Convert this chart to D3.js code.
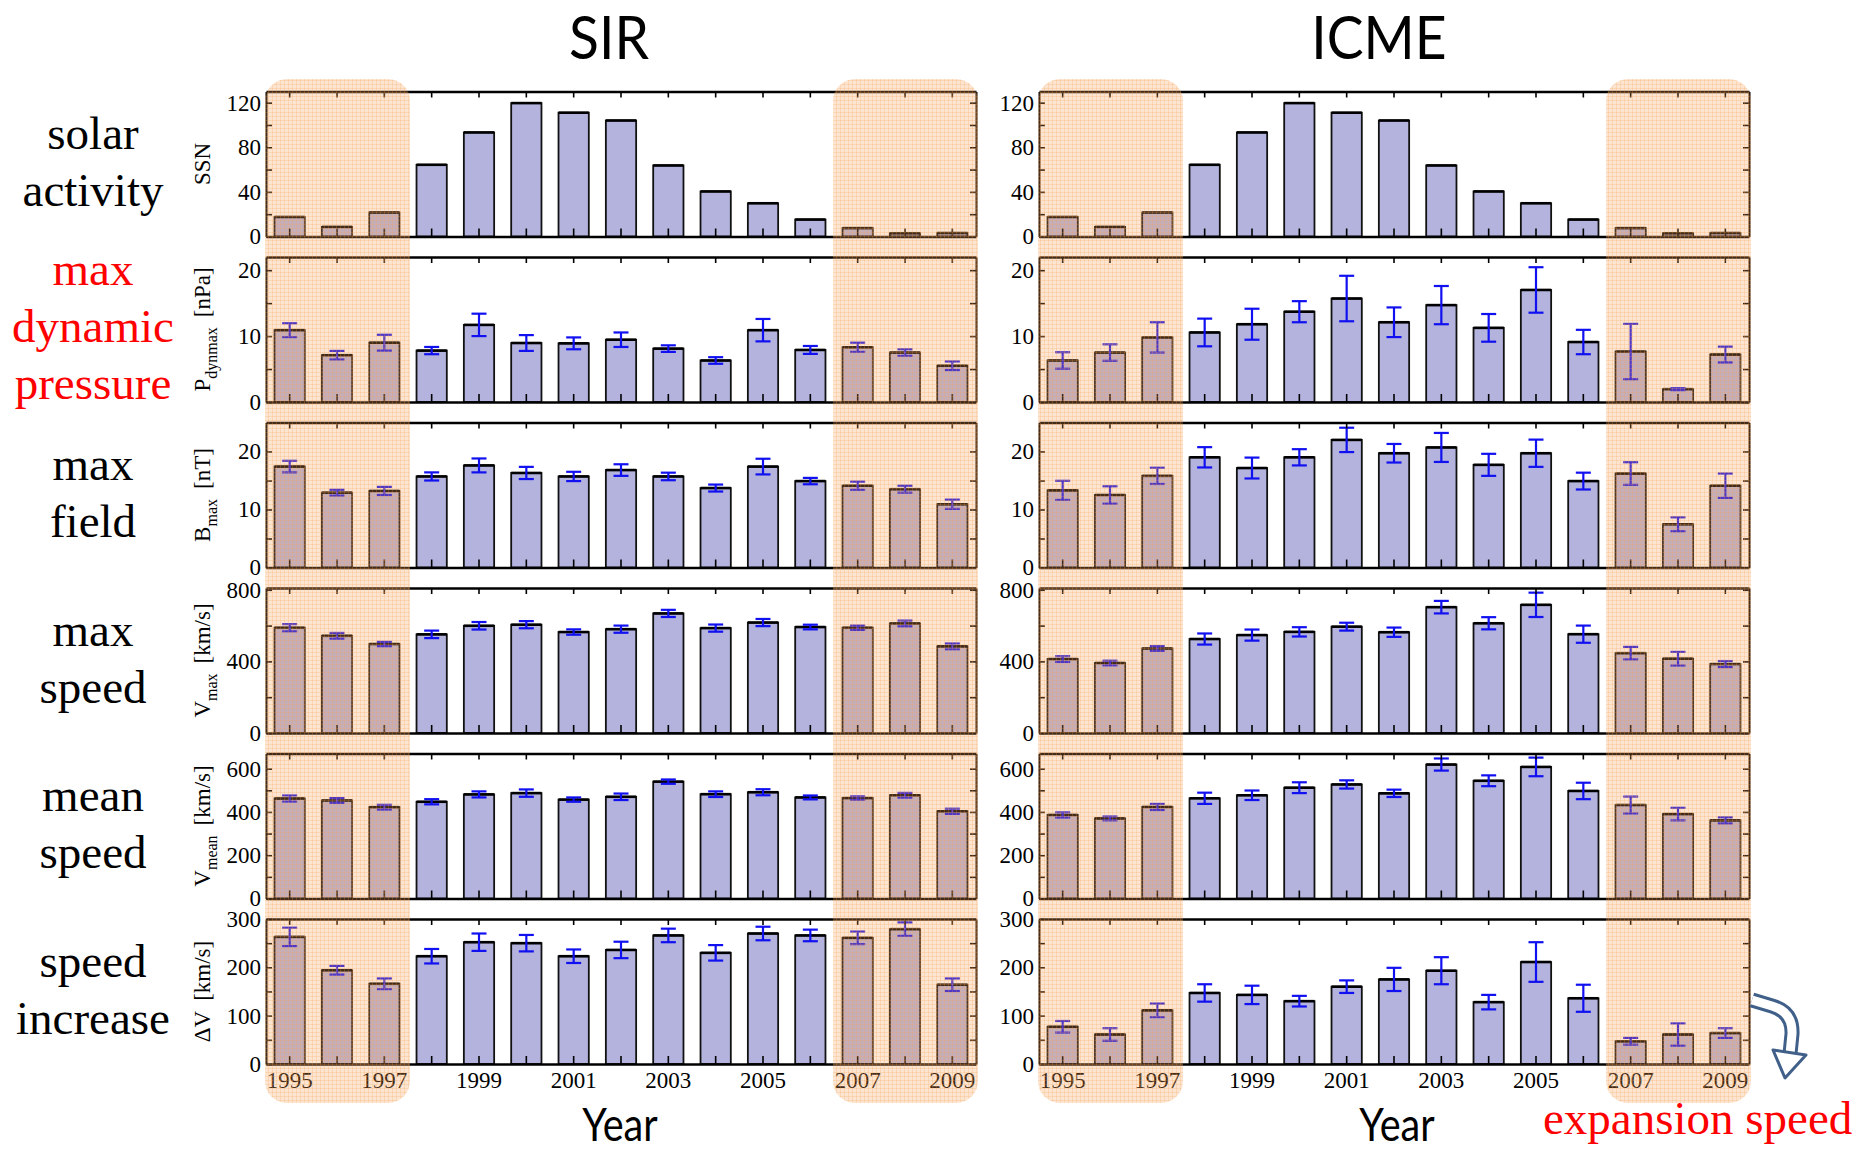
<!DOCTYPE html>
<html>
<head>
<meta charset="utf-8">
<script src="https://cdn.jsdelivr.net/npm/d3@7/dist/d3.min.js"></script>
<style>
  body { margin: 0; background: #fff; }
  svg text { font-family: "Liberation Serif", "Times New Roman", serif; }
</style>
</head>
<body>
<svg id="chart" width="1864" height="1150"></svg>
<script>
// ---- data ----
var years = [1995, 1996, 1997, 1998, 1999, 2000, 2001, 2002, 2003, 2004, 2005, 2006, 2007, 2008, 2009];
var oddYearLabels = [1995, 1997, 1999, 2001, 2003, 2005, 2007, 2009];

var ssn = [17.5, 8.6, 21.5, 64.3, 93.3, 119.6, 111.0, 104.0, 63.7, 40.4, 29.8, 15.2, 7.5, 2.9, 3.1];

var sirPdyn     = [10.9, 7.1, 9.0, 7.8, 11.7, 8.95, 8.9, 9.45, 8.1, 6.3, 10.9, 7.9, 8.3, 7.5, 5.5];
var sirPdynErr  = [1.05, 0.65, 1.2, 0.55, 1.7, 1.2, 0.9, 1.1, 0.5, 0.5, 1.7, 0.6, 0.7, 0.5, 0.65];
var icmePdyn    = [6.3, 7.5, 9.8, 10.55, 11.8, 13.7, 15.7, 12.1, 14.7, 11.25, 17.0, 9.1, 7.65, 1.95, 7.2];
var icmePdynErr = [1.25, 1.25, 2.3, 2.1, 2.35, 1.6, 3.45, 2.25, 2.9, 2.1, 3.45, 1.85, 4.2, 0.15, 1.2];

var sirBmax     = [17.4, 12.9, 13.2, 15.7, 17.6, 16.3, 15.7, 16.8, 15.7, 13.7, 17.4, 14.9, 14.1, 13.5, 10.9];
var sirBmaxErr  = [1.0, 0.5, 0.7, 0.7, 1.2, 1.05, 0.8, 1.0, 0.65, 0.6, 1.35, 0.55, 0.7, 0.6, 0.8];
var icmeBmax    = [13.3, 12.5, 15.8, 19.0, 17.15, 19.0, 22.0, 19.7, 20.7, 17.7, 19.7, 14.9, 16.2, 7.45, 14.1];
var icmeBmaxErr = [1.65, 1.5, 1.4, 1.75, 1.8, 1.4, 2.1, 1.6, 2.5, 1.9, 2.35, 1.45, 1.95, 1.2, 2.1];

var sirVmax     = [588, 543, 497, 551, 599, 605, 564, 580, 668, 586, 617, 592, 588, 612, 484];
var sirVmaxErr  = [20, 16, 12, 21, 21, 20, 15, 20, 20, 20, 20, 13, 12, 16, 16];
var icmeVmax    = [413, 391, 472, 525, 547, 565, 594, 563, 703, 613, 716, 552, 446, 415, 385];
var icmeVmaxErr = [16, 13, 13, 31, 31, 26, 22, 26, 35, 34, 68, 48, 35, 38, 17];

var sirVmean     = [462, 453, 422, 447, 481, 487, 457, 470, 540, 482, 491, 467, 464, 477, 403];
var sirVmeanErr  = [14, 11, 11, 12, 14, 17, 10, 15, 10, 13, 14, 9, 8, 11, 12];
var icmeVmean    = [386, 370, 423, 463, 477, 512, 527, 486, 619, 544, 608, 497, 432, 390, 361];
var icmeVmeanErr = [12, 9, 14, 26, 22, 25, 19, 17, 28, 25, 43, 38, 39, 29, 14];

var sirDv     = [263, 194, 166, 223, 252, 250, 223, 236, 266, 230, 270, 266, 261, 279, 164];
var sirDvErr  = [19, 9, 11, 15, 18, 17, 14, 17, 14, 16, 14, 12, 13, 14, 13];
var icmeDv    = [77, 61, 111, 147, 143, 130, 160, 175, 193, 128, 211, 136, 47, 61, 64];
var icmeDvErr = [12, 13, 14, 18, 19, 11, 13, 24, 28, 15, 41, 28, 7, 23, 10];

var minYears = [[1995, 1997], [2007, 2009]];   // shaded solar minimum periods

// ---- panel setup ----
var rows = [
  {max: 130, major: [0, 40, 80, 120], minor: [20, 60, 100], data: [ssn, ssn], err: [null, null],
   name: "SSN", sub: "", unit: "", label: ["solar", "activity"], color: "#000"},
  {max: 22, major: [0, 10, 20], minor: [5, 15], data: [sirPdyn, icmePdyn], err: [sirPdynErr, icmePdynErr],
   name: "P", sub: "dynmax", unit: "[nPa]", label: ["max", "dynamic", "pressure"], color: "#ff0000"},
  {max: 25, major: [0, 10, 20], minor: [5, 15], data: [sirBmax, icmeBmax], err: [sirBmaxErr, icmeBmaxErr],
   name: "B", sub: "max", unit: "[nT]", label: ["max", "field"], color: "#000"},
  {max: 810, major: [0, 400, 800], minor: [200, 600], data: [sirVmax, icmeVmax], err: [sirVmaxErr, icmeVmaxErr],
   name: "V", sub: "max", unit: "[km/s]", label: ["max", "speed"], color: "#000"},
  {max: 670, major: [0, 200, 400, 600], minor: [100, 300, 500], data: [sirVmean, icmeVmean], err: [sirVmeanErr, icmeVmeanErr],
   name: "V", sub: "mean", unit: "[km/s]", label: ["mean", "speed"], color: "#000"},
  {max: 300, major: [0, 100, 200, 300], minor: [50, 150, 250], data: [sirDv, icmeDv], err: [sirDvErr, icmeDvErr],
   name: "\u0394V", sub: "", unit: "[km/s]", label: ["speed", "increase"], color: "#000"}
];

var cols = [
  {title: "SIR", x0: 266, titleX: 609, yearX: 620, yearY: 1141},
  {title: "ICME", x0: 1039, titleX: 1379, yearX: 1397, yearY: 1141}
];

var W = 710, H = 145, top0 = 91.5, step = 165.5;
var barFrac = 0.64, capW = 15;

var svg = d3.select("#chart");

// shading pattern
var defs = svg.append("defs");
var pat = defs.append("pattern").attr("id", "dots")
    .attr("width", 4).attr("height", 4).attr("patternUnits", "userSpaceOnUse");
pat.append("rect").attr("width", 4).attr("height", 4).attr("fill", "rgba(246,158,84,0.27)");
pat.append("rect").attr("width", 4).attr("height", 1).attr("fill", "rgba(246,158,84,0.22)");
pat.append("rect").attr("width", 1).attr("height", 4).attr("fill", "rgba(246,158,84,0.22)");

function styleAxis(g, w) {
  g.select(".domain").attr("stroke", "#000").attr("stroke-width", w);
  g.selectAll(".tick line").attr("stroke", "#000").attr("stroke-width", 1.6);
  g.selectAll(".tick text")
    .attr("fill", "#000")
    .style("font-family", '"Liberation Serif", serif')
    .style("font-size", "23px");
}

cols.forEach(function(c, ci) {
  var x = d3.scaleBand().domain(years).range([c.x0, c.x0 + W]);
  var bw = x.bandwidth() * barFrac;

  rows.forEach(function(r, ri) {
    var y0 = top0 + ri * step;
    var y = d3.scaleLinear().domain([0, r.max]).range([y0 + H, y0]);
    var vals = r.data[ci], errs = r.err[ci];
    var g = svg.append("g");

    // bars
    g.selectAll("rect.bar").data(years).join("rect")
      .attr("class", "bar")
      .attr("x", function(d) { return x(d) + (x.bandwidth() - bw) / 2; })
      .attr("width", bw)
      .attr("y", function(d, i) { return y(vals[i]); })
      .attr("height", function(d, i) { return y(0) - y(vals[i]); })
      .attr("fill", "#b3b3de")
      .attr("stroke", "#111")
      .attr("stroke-width", 1.8);
    g.selectAll("line.btop").data(years).join("line")
      .attr("class", "btop")
      .attr("x1", function(d) { return x(d) + (x.bandwidth() - bw) / 2; })
      .attr("x2", function(d) { return x(d) + (x.bandwidth() + bw) / 2; })
      .attr("y1", function(d, i) { return y(vals[i]); })
      .attr("y2", function(d, i) { return y(vals[i]); })
      .attr("stroke", "#000").attr("stroke-width", 2.6);

    // error bars
    if (errs) {
      var eg = g.selectAll("g.err").data(years).join("g").attr("class", "err")
        .attr("stroke", "#1010f0").attr("stroke-width", 2.2);
      eg.append("line")
        .attr("x1", function(d) { return x(d) + x.bandwidth() / 2; })
        .attr("x2", function(d) { return x(d) + x.bandwidth() / 2; })
        .attr("y1", function(d, i) { return y(vals[i] - errs[i]); })
        .attr("y2", function(d, i) { return y(vals[i] + errs[i]); });
      [1, -1].forEach(function(s) {
        eg.append("line")
          .attr("x1", function(d) { return x(d) + x.bandwidth() / 2 - capW / 2; })
          .attr("x2", function(d) { return x(d) + x.bandwidth() / 2 + capW / 2; })
          .attr("y1", function(d, i) { return y(vals[i] + s * errs[i]); })
          .attr("y2", function(d, i) { return y(vals[i] + s * errs[i]); });
      });
    }

    // axes
    var left = g.append("g").attr("transform", "translate(" + c.x0 + ",0)")
      .call(d3.axisLeft(y).tickValues(r.major).tickSize(-6).tickSizeOuter(0).tickPadding(5));
    styleAxis(left, 2);
    var leftMinor = g.append("g").attr("transform", "translate(" + c.x0 + ",0)")
      .call(d3.axisLeft(y).tickValues(r.minor).tickSize(-6).tickFormat(""));
    leftMinor.select(".domain").remove();
    styleAxis(leftMinor, 0);
    var right = g.append("g").attr("transform", "translate(" + (c.x0 + W) + ",0)")
      .call(d3.axisRight(y).tickValues(r.major.concat(r.minor)).tickSize(-6).tickSizeOuter(0).tickFormat(""));
    styleAxis(right, 2);
    var topAx = g.append("g").attr("transform", "translate(0," + y0 + ")")
      .call(d3.axisTop(x).tickSize(-6).tickSizeOuter(0).tickFormat(""));
    styleAxis(topAx, 2.4);
    var bottom = g.append("g").attr("transform", "translate(0," + (y0 + H) + ")")
      .call(d3.axisBottom(x).tickSize(-8).tickSizeOuter(0).tickPadding(8)
        .tickFormat(function(d) { return (ri === rows.length - 1 && oddYearLabels.indexOf(d) >= 0) ? d : ""; }));
    styleAxis(bottom, 2.6);

    // y-axis title (SIR column only)
    if (ci === 0) {
      var t = svg.append("text")
        .attr("transform", "translate(210," + (y0 + H / 2) + ") rotate(-90)")
        .attr("text-anchor", "middle")
        .style("font-size", "23px").attr("fill", "#000");
      t.append("tspan").text(r.name);
      if (r.sub) t.append("tspan").attr("dy", 7).style("font-size", "16px").text(r.sub);
      if (r.unit) t.append("tspan").attr("dy", r.sub ? -7 : 0).attr("dx", 10).text(r.unit);
    }
  });

  // shaded minimum periods, drawn over the panels
  minYears.forEach(function(p) {
    var xa = x(p[0]) - 1, xb = x(p[1]) + x.bandwidth() + 2;
    svg.append("rect")
      .attr("x", xa).attr("y", 79)
      .attr("width", xb - xa).attr("height", 1103 - 79)
      .attr("rx", 22).attr("ry", 22)
      .attr("fill", "url(#dots)");
  });

  // column title and x label
  svg.append("text").text(c.title)
    .attr("transform", "translate(" + c.titleX + ",59) scale(0.92,1)")
    .attr("text-anchor", "middle")
    .style("font-family", "Lato, sans-serif").style("font-size", "60px").attr("fill", "#000");
  svg.append("text").text("Year")
    .attr("transform", "translate(" + c.yearX + "," + c.yearY + ") scale(0.86,1)")
    .attr("text-anchor", "middle")
    .style("font-family", "Lato, sans-serif").style("font-size", "46px").attr("fill", "#000");
});

// row labels on the far left
rows.forEach(function(r, ri) {
  var cy = top0 + ri * step + H / 2;
  var n = r.label.length;
  var first = n === 3 ? cy - 45 : cy - 15;
  var t = svg.append("text").attr("text-anchor", "middle")
    .style("font-size", "47px").attr("fill", r.color);
  r.label.forEach(function(s, k) {
    t.append("tspan").attr("x", 93).attr("y", first + k * 57).text(s);
  });
});

// expansion speed note and arrow
svg.append("text").text("expansion speed")
  .attr("x", 1543).attr("y", 1134)
  .style("font-size", "47px").attr("fill", "#ff0000");

var arrow = svg.append("g");
var shaft = "M1752,1000 L1772,1006 Q1793,1012 1792,1034 L1790,1054";
arrow.append("path").attr("d", shaft).attr("fill", "none")
  .attr("stroke", "#40608a").attr("stroke-width", 15);
arrow.append("path").attr("d", shaft).attr("fill", "none")
  .attr("stroke", "#fff").attr("stroke-width", 9);
arrow.append("path").attr("d", "M1773,1050 L1806,1055 L1785,1078 Z")
  .attr("fill", "#fff").attr("stroke", "#40608a").attr("stroke-width", 3)
  .attr("stroke-linejoin", "round");
</script>
</body>
</html>
